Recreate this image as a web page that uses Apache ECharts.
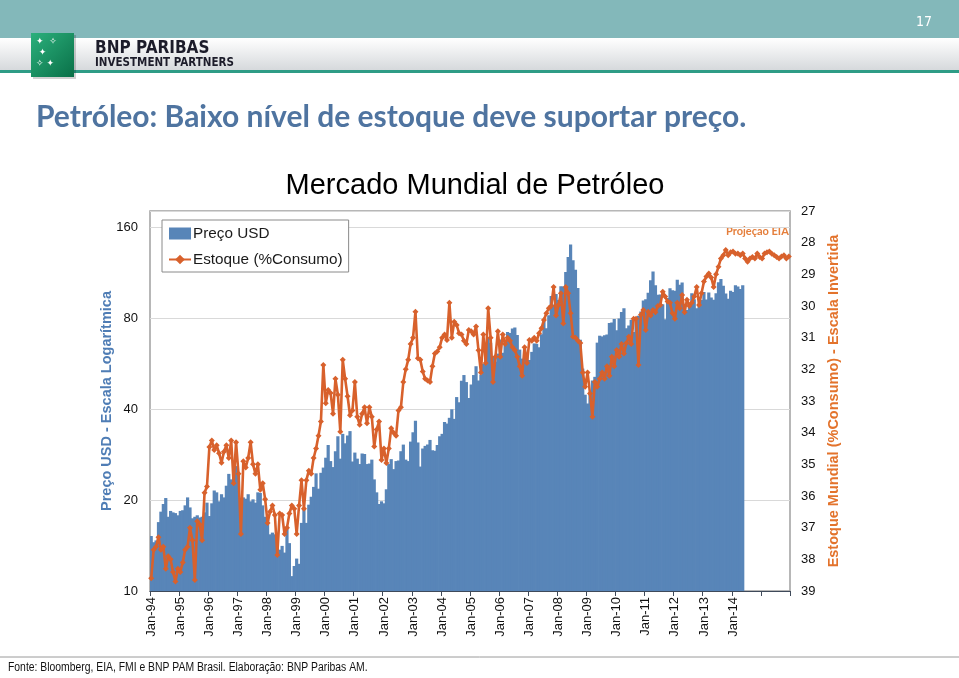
<!DOCTYPE html>
<html>
<head>
<meta charset="utf-8">
<script src="https://cdn.jsdelivr.net/npm/echarts@6/dist/echarts.min.js"></script>
<style>
html,body{margin:0;padding:0;background:#fff;}
#chart{width:959px;height:678px;}
</style>
</head>
<body>
<div id="chart"></div>
<script>
// ---- Data ----
var years = [1994,1995,1996,1997,1998,1999,2000,2001,2002,2003,2004,2005,2006,2007,2008,2009,2010,2011,2012,2013,2014,2015];
var monthNames = ['Jan','Feb','Mar','Apr','May','Jun','Jul','Aug','Sep','Oct','Nov','Dec'];
var leftTicks = [10, 20, 40, 80, 160];
var rightTicks = [27,28,29,30,31,32,33,34,35,36,37,38,39];

// Price USD (monthly, Jan-94 .. May-14)
var price = [
15.2,14.5,14.7,16.9,18.3,19.4,20.3,17.6,18.4,18.2,18.1,17.8,
18.4,18.5,19.2,20.4,18.9,17.4,17.6,17.8,17.5,17.6,18.2,19.6,
17.7,19.5,21.5,21.2,19.8,20.9,20.4,22.3,24.4,23.4,23.8,25.9,
24.2,20.3,20.4,20.2,20.9,19.8,20.1,19.6,21.2,21.1,19.2,17.6,
17.2,15.4,15.6,15.4,15.2,13.7,14.1,13.4,16.1,14.4,11.2,12.1,
12.8,12.3,16.8,18.7,16.8,19.3,20.5,22.1,24.5,21.8,24.6,25.6,
27.6,30.4,26.9,25.7,29.0,32.5,27.4,33.1,30.8,32.7,33.8,26.8,
28.7,27.4,26.3,28.5,28.4,26.3,26.4,27.2,23.4,21.2,19.4,19.8,
19.5,21.7,26.3,27.3,25.3,26.9,27.0,29.0,30.5,27.2,26.9,31.2,
33.5,36.6,31.0,25.8,29.6,30.2,30.5,31.6,29.2,29.1,30.4,32.5,
33.1,36.2,35.8,37.4,39.9,37.1,43.8,42.1,49.6,51.8,49.1,43.5,
48.2,51.8,55.4,49.7,52.0,56.5,60.6,68.9,66.2,59.8,57.3,61.0,
67.9,61.4,66.6,71.9,71.3,73.9,74.4,70.3,62.9,58.7,63.1,61.1,
58.1,61.8,65.9,65.7,64.0,70.7,78.2,74.0,81.7,94.5,88.7,96.0,
91.8,101.8,101.6,113.5,127.4,140.0,124.1,115.5,100.6,67.8,54.4,44.6,
41.7,44.8,49.7,51.1,66.3,69.9,69.5,70.1,70.6,77.0,77.3,79.4,
72.9,79.7,83.8,86.2,74.0,75.6,79.0,71.9,80.0,81.4,84.1,91.4,
92.2,97.0,106.7,113.9,102.7,95.4,95.7,88.8,79.2,93.2,100.4,98.8,
98.5,107.1,103.0,104.9,86.5,85.0,88.1,96.5,92.2,86.2,88.9,91.8,
97.5,92.1,97.2,93.5,92.0,96.6,105.0,107.7,102.3,96.4,92.7,98.4,
97.5,102.6,101.6,99.7,102.7
];

// Estoque (%Consumo), monthly Jan-94 .. Dec-15 (2014-15: EIA projection)
var stock = [
38.6,37.7,37.6,37.3,37.7,37.6,38.3,37.9,38.0,38.4,38.7,38.3,
38.4,38.1,37.7,37.6,37.0,37.4,38.65,36.8,36.9,37.4,35.9,35.7,
34.45,34.25,34.55,34.4,34.65,34.95,34.6,34.4,34.8,34.25,35.6,34.3,
35.3,37.2,34.9,35.1,34.8,34.3,35.0,35.3,35.0,35.8,35.6,36.1,
36.85,36.5,36.3,36.6,37.86,36.55,36.6,37.2,37.0,36.55,36.3,36.4,
37.2,36.3,35.5,36.4,35.5,35.2,35.3,34.8,34.5,34.1,33.65,31.86,
33.07,32.65,32.75,33.4,32.3,32.8,33.97,31.7,32.3,32.85,33.45,33.3,
32.4,33.5,33.75,33.4,33.2,33.7,33.2,33.5,34.44,33.9,33.65,34.86,
34.5,34.96,34.5,33.86,34.0,34.1,33.3,33.2,32.4,32.0,31.7,31.2,
31.0,30.18,31.65,31.7,32.07,32.3,32.35,32.4,31.9,31.5,31.44,31.3,
31.0,30.9,31.07,29.9,31.0,30.5,30.6,30.86,30.9,31.1,31.2,30.76,
30.8,30.9,30.65,31.4,32.1,30.9,31.8,30.07,31.0,32.4,31.6,30.8,
31.6,30.9,31.2,31.0,31.1,31.3,31.4,31.6,31.9,32.2,31.3,31.8,
31.07,31.1,31.0,31.1,30.86,30.7,30.44,30.23,30.07,30.0,29.4,30.3,
29.97,29.6,30.55,29.4,29.6,30.23,30.97,31.0,31.1,31.17,32.1,32.55,
32.1,32.76,33.5,32.4,32.55,32.3,32.1,32.3,31.9,32.2,31.6,31.9,
31.39,31.6,31.2,31.5,31.17,30.97,31.2,30.4,30.4,31.86,30.28,30.13,
30.76,30.18,30.3,30.13,30.2,30.0,29.97,29.55,29.7,29.86,29.9,30.23,
30.4,29.9,30.07,29.65,30.2,29.8,30.0,29.9,29.7,29.4,29.97,29.6,
29.23,29.07,28.97,29.1,29.4,29.0,28.76,28.5,28.4,28.23,28.4,28.3,
28.28,28.35,28.34,28.4,28.34,28.5,28.6,28.5,28.45,28.5,28.34,28.45,
28.5,28.34,28.3,28.28,28.35,28.4,28.45,28.5,28.44,28.4,28.5,28.44
];

// ---- Build categories ----
var categories = [];
years.forEach(function (y) {
  monthNames.forEach(function (m) {
    categories.push(m + '-' + String(y).slice(2));
  });
});
var lastLabelIdx = categories.indexOf('Jan-14');

// log2 transform for the logarithmic price axis (base 10, doubling ticks)
var base = leftTicks[0];
var priceT = price.map(function (p) { return Math.log(p / base) / Math.LN2; });

var chart = echarts.init(document.getElementById('chart'), null, {renderer: 'canvas'});
var orange = '#D8612C';
var blue = '#5885B8';

var option = {
  animation: false,
  backgroundColor: '#fff',
  title: {
    text: 'Mercado Mundial de Petróleo',
    left: 470, top: 166, textAlign: 'center',
    textStyle: {fontFamily: 'Liberation Sans, Arial', fontSize: 29, fontWeight: 'normal', color: '#000'}
  },
  legend: {
    orient: 'vertical',
    left: 162, top: 220,
    backgroundColor: '#fff',
    borderColor: '#8a8a8a', borderWidth: 1, borderRadius: 0,
    padding: [6, 6, 5, 6],
    itemGap: 11,
    itemWidth: 22, itemHeight: 12,
    textStyle: {fontFamily: 'Liberation Sans, Arial', fontSize: 15.3, color: '#1a1a1a', padding: [0,0,0,-3]},
    data: [
      {name: 'Preço USD', icon: 'rect'},
      {name: 'Estoque (%Consumo)'}
    ]
  },
  grid: {
    left: 150, right: 169, top: 211, bottom: 87,
    show: true, borderColor: '#a0a0a0', borderWidth: 1.5, backgroundColor: 'transparent'
  },
  xAxis: {
    type: 'category',
    data: categories,
    boundaryGap: true,
    axisLine: {show: true, lineStyle: {color: '#3f4a5a', width: 1.2}},
    axisTick: {show: true, length: 5, lineStyle: {color: '#3f4a5a'},
      interval: function (idx) { return idx % 12 === 0; }},
    axisLabel: {
      rotate: 90, margin: 6,
      fontFamily: 'Liberation Sans, Arial', fontSize: 13, color: '#111',
      interval: function (idx) { return idx % 12 === 0 && idx <= lastLabelIdx; }
    },
    splitLine: {show: false}
  },
  yAxis: [
    {
      type: 'value',
      min: 0, max: Math.log(180.7 / base) / Math.LN2, interval: 1,
      name: 'Preço USD - Escala Logarítmica',
      nameLocation: 'middle', nameRotate: 90, nameGap: 36, nameMoveOverlap: false,
      nameTextStyle: {fontFamily: 'Liberation Sans, Arial', fontSize: 14.5, fontWeight: 'bold', color: '#4F7DB5'},
      axisLine: {show: false}, axisTick: {show: false},
      axisLabel: {
        margin: 12, fontFamily: 'Liberation Sans, Arial', fontSize: 13, color: '#111',
        showMaxLabel: false,
        formatter: function (v) { return String(Math.round(base * Math.pow(2, v))); }
      },
      splitLine: {show: true, lineStyle: {color: '#d9d9d9', width: 1}}
    },
    {
      type: 'value',
      inverse: true,
      min: rightTicks[0], max: rightTicks[rightTicks.length - 1], interval: 1,
      position: 'right',
      name: 'Estoque Mundial (%Consumo) - Escala Invertida',
      nameLocation: 'middle', nameRotate: 90, nameGap: 35,
      nameTextStyle: {fontFamily: 'Liberation Sans, Arial', fontSize: 14.5, fontWeight: 'bold', color: '#E3732C'},
      axisLine: {show: false}, axisTick: {show: false},
      axisLabel: {margin: 11, fontFamily: 'Liberation Sans, Arial', fontSize: 13, color: '#111'},
      splitLine: {show: false}
    }
  ],
  series: [
    {
      name: 'Preço USD',
      type: 'bar',
      yAxisIndex: 0,
      data: priceT,
      barWidth: 3.2,
      itemStyle: {color: blue},
      z: 2
    },
    {
      name: 'Estoque (%Consumo)',
      type: 'line',
      yAxisIndex: 1,
      data: stock,
      symbol: 'diamond', symbolSize: 6,
      showAllSymbol: true,
      lineStyle: {color: orange, width: 2.6},
      itemStyle: {color: orange},
      z: 3
    }
  ],
  graphic: [
    {type: 'rect', shape: {x: 0, y: 0, width: 959, height: 38}, style: {fill: '#83B8BA'}, silent: true},
    {type: 'rect', shape: {x: 0, y: 38, width: 959, height: 32},
      style: {fill: new echarts.graphic.LinearGradient(0, 0, 0, 1, [{offset: 0, color: '#ffffff'}, {offset: 1, color: '#d6d9dc'}])}, silent: true},
    {type: 'rect', shape: {x: 0, y: 70, width: 959, height: 3}, style: {fill: '#2E9C86'}, silent: true},
    {type: 'rect', shape: {x: 33, y: 35, width: 43, height: 44}, style: {fill: 'rgba(0,0,0,0.18)'}, silent: true},
    {type: 'rect', shape: {x: 31, y: 33, width: 43, height: 44},
      style: {fill: new echarts.graphic.LinearGradient(0, 0, 1, 1, [{offset: 0, color: '#2bb07c'}, {offset: 1, color: '#0a7048'}])}, silent: true},
    {type: 'text', left: 36, top: 36, style: {text: '✦  ✧\n ✦\n✧ ✦', fill: '#ffffff', font: '9px DejaVu Sans', lineHeight: 11}, silent: true},
    {type: 'text', left: 95, top: 40, style: {text: 'BNP PARIBAS', fill: '#1c1c2a', font: 'bold 17px "DejaVu Sans Condensed", "Liberation Sans Narrow", Arial'}, silent: true},
    {type: 'text', left: 95, top: 57, style: {text: 'INVESTMENT PARTNERS', fill: '#1c1c2a', font: 'bold 11.5px "DejaVu Sans Condensed", "Liberation Sans Narrow", Arial'}, silent: true},
    {type: 'text', left: 916, top: 15, style: {text: '17', fill: '#ffffff', font: '14px "DejaVu Sans Condensed", Arial'}, silent: true},
    {type: 'text', left: 36, top: 102, style: {text: 'Petróleo: Baixo nível de estoque deve suportar preço.', fill: '#4F74A0', font: 'bold 30px Lato, "Open Sans", Arial'}, silent: true},
    {type: 'text', left: 726, top: 226, style: {text: 'Projeção EIA', fill: '#E57F3C', font: 'bold 11px Lato, "Open Sans", Arial'}, silent: true},
    {type: 'line', shape: {x1: 0, y1: 657, x2: 959, y2: 657}, style: {stroke: '#9a9a9a', lineWidth: 1}, silent: true},
    {type: 'text', x: 8, y: 661, scaleX: 0.83, style: {text: 'Fonte: Bloomberg, EIA, FMI e BNP PAM Brasil. Elaboração: BNP Paribas AM.', fill: '#111', font: '12.5px "Liberation Sans", Arial'}, silent: true}
  ]
};
chart.setOption(option);
</script>
</body>
</html>
